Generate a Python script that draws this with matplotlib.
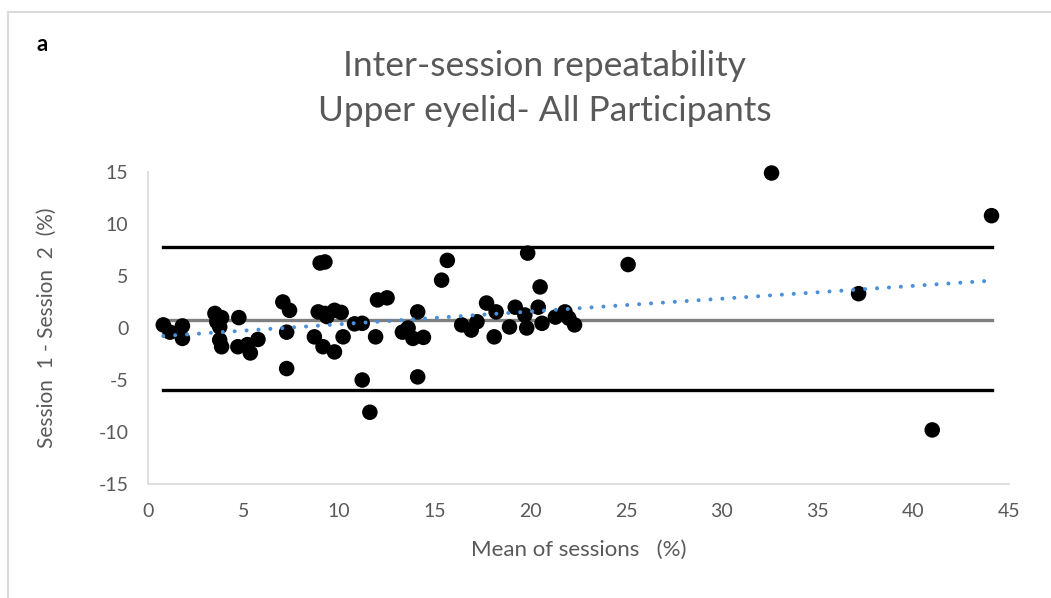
import numpy as np
import matplotlib.pyplot as plt
from matplotlib.lines import Line2D

# Bland-Altman data
mean_sessions = [
    0.8, 1.15, 1.8, 1.8, 3.5, 3.85, 3.6, 3.75, 3.75, 3.85,
    4.75, 4.7, 5.2, 5.35, 5.75, 7.05, 7.4, 7.25, 7.25, 8.7,
    8.9, 9.0, 9.25, 9.25, 9.35, 9.15, 9.75, 9.75, 10.1, 10.2,
    10.8, 11.2, 11.2, 11.6, 11.9, 12.0, 12.5, 13.3, 13.6, 13.85,
    14.1, 14.1, 14.4, 15.35, 15.65, 16.4, 16.9, 17.2, 17.7, 18.1,
    18.2, 18.9, 19.2, 19.7, 19.8, 19.85, 20.4, 20.5, 20.6, 21.3,
    21.8, 22.0, 22.3, 25.1, 32.6, 37.15, 41.0, 44.1,
]
diff_sessions = [
    0.3, -0.4, 0.2, -1.0, 1.4, 1.0, 0.6, 0.1, -1.15, -1.8,
    1.0, -1.8, -1.6, -2.4, -1.1, 2.5, 1.7, -0.4, -3.9, -0.85,
    1.55, 6.25, 6.35, 1.4, 1.1, -1.8, 1.7, -2.3, 1.5, -0.85,
    0.4, 0.45, -5.0, -8.1, -0.85, 2.7, 2.9, -0.4, 0.0, -1.0,
    1.55, -4.7, -0.9, 4.6, 6.5, 0.3, -0.2, 0.6, 2.4, -0.85,
    1.55, 0.1, 2.0, 1.25, 0.0, 7.2, 2.0, 3.95, 0.45, 1.05,
    1.55, 0.95, 0.3, 6.1, 14.9, 3.3, -9.8, 10.8,
]

bias = 0.8
upper_loa = 7.75
lower_loa = -6.0
trend_slope = 0.123
trend_intercept = -0.87

x_ticks = [0, 5, 10, 15, 20, 25, 30, 35, 40, 45]
y_ticks = [-15, -10, -5, 0, 5, 10, 15]

plt.rcParams['font.family'] = ['Lato', 'DejaVu Sans']
plt.rcParams['axes.unicode_minus'] = False
TXT = "#595959"

fig = plt.figure(figsize=(10.51, 5.98), dpi=100)
ax = fig.add_axes([0.1408, 0.1906, 0.819, 0.5218])

x = np.array(mean_sessions)
y = np.array(diff_sessions)
x_span = np.array([x.min(), x.max()])

ax.plot(x_span, [upper_loa, upper_loa], color="black", lw=2.4, zorder=2)
ax.plot(x_span, [lower_loa, lower_loa], color="black", lw=2.4, zorder=2)
ax.plot(x_span, [bias, bias], color="#7f7f7f", lw=2.4, zorder=2)
ax.scatter(x, y, s=125, color="black", edgecolors="none", zorder=3, clip_on=False)
ax.plot(x_span, trend_intercept + trend_slope * x_span, color="#4a90d9",
        lw=2.9, linestyle=(0, (0.01, 2.95)), dash_capstyle="round", zorder=4)

ax.set_xlim(0, 45)
ax.set_ylim(-15, 15)
ax.set_xticks(x_ticks)
ax.set_yticks(y_ticks)
ax.tick_params(length=0, labelsize=14, colors=TXT, pad=14)
for side in ("top", "right"):
    ax.spines[side].set_visible(False)
for side in ("left", "bottom"):
    ax.spines[side].set_color("#d9d9d9")
    ax.spines[side].set_linewidth(1.2)

ax.set_xlabel("Mean of sessions   (%)", fontsize=16, color=TXT, labelpad=14)
ax.set_ylabel("Session  1 - Session  2  (%)", fontsize=15, color=TXT, labelpad=30)

fig.text(0.518, 0.89, "Inter-session repeatability", ha="center", va="center",
         fontsize=25.5, color=TXT)
fig.text(0.518, 0.815, "Upper eyelid- All Participants", ha="center", va="center",
         fontsize=25.5, color=TXT)
fig.text(0.035, 0.925, "a", ha="left", va="center", fontsize=16,
         fontweight="bold", color="black")

# light frame around the panel (top and left edges visible)
fig.add_artist(Line2D([0.008, 1.0], [0.98, 0.98], transform=fig.transFigure,
                      color="#d9d9d9", lw=1.5))
fig.add_artist(Line2D([0.008, 0.008], [0.0, 0.98], transform=fig.transFigure,
                      color="#d9d9d9", lw=1.5))

fig.savefig("out.png", dpi=100)
plt.close(fig)
